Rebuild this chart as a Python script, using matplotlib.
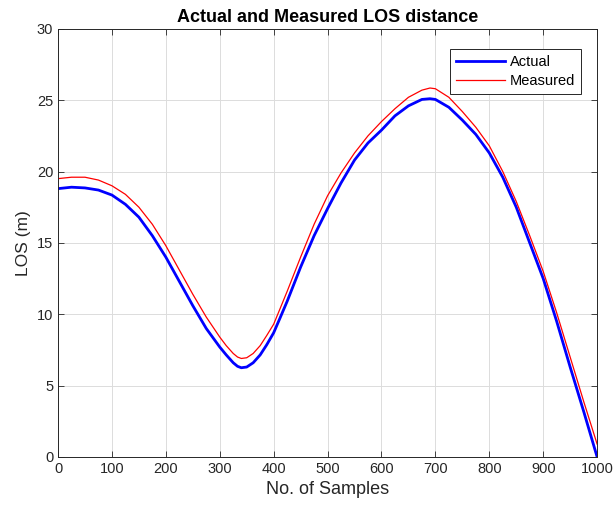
import matplotlib

matplotlib.use("Agg")
import matplotlib.pyplot as plt  # noqa: E402

# samples (LOS distance in metres)
samples = [0, 25, 50, 75, 100, 125, 150, 175, 200, 225, 250, 275, 300, 312,
           325, 333, 340, 350, 362, 375, 387, 400, 412, 425, 450, 475, 500,
           525, 550, 575, 600, 625, 650, 675, 690, 700, 725, 750, 775, 800,
           825, 850, 875, 900, 925, 950, 975, 1000]
actual = [18.8, 18.9, 18.85, 18.7, 18.35, 17.7, 16.8, 15.5, 14.0, 12.3, 10.6,
          9.0, 7.7, 7.15, 6.6, 6.35, 6.25, 6.3, 6.6, 7.15, 7.85, 8.7, 9.75,
          10.9, 13.3, 15.5, 17.4, 19.2, 20.8, 22.0, 22.9, 23.9, 24.6, 25.05,
          25.1, 25.05, 24.5, 23.6, 22.6, 21.3, 19.6, 17.5, 15.0, 12.5, 9.5,
          6.3, 3.2, 0.0]
measured = [19.5, 19.6, 19.6, 19.4, 19.0, 18.4, 17.5, 16.3, 14.8, 13.1, 11.4,
            9.8, 8.4, 7.8, 7.25, 7.0, 6.9, 6.95, 7.25, 7.8, 8.5, 9.3, 10.4,
            11.6, 14.0, 16.3, 18.3, 19.9, 21.3, 22.5, 23.5, 24.4, 25.2, 25.7,
            25.85, 25.8, 25.2, 24.2, 23.1, 21.8, 20.0, 17.9, 15.5, 13.0, 10.1,
            7.0, 3.9, 0.9]
xticks = list(range(0, 1001, 100))
yticks = list(range(0, 31, 5))

AX_GRAY = "#262626"

plt.rcParams["font.family"] = ["Liberation Sans", "DejaVu Sans"]

fig = plt.figure(figsize=(6.14, 5.14), dpi=100)
ax = fig.add_axes([0.0945, 0.111, 0.878, 0.833])

ax.plot(samples, actual, color="#0000ff", linewidth=2.0, label="Actual",
        solid_joinstyle="round")
ax.plot(samples, measured, color="#ff0000", linewidth=0.9, label="Measured",
        solid_joinstyle="round")

ax.set_xlim(0, 1000)
ax.set_ylim(0, 30)
ax.set_xticks(xticks)
ax.set_yticks(yticks)
ax.tick_params(direction="in", top=True, right=True, length=4, width=0.6,
               colors=AX_GRAY, labelsize=10.5)
for sp in ax.spines.values():
    sp.set_color(AX_GRAY)
    sp.set_linewidth(0.7)
ax.grid(True, color="#dcdcdc", linewidth=0.7)
ax.set_axisbelow(True)

ax.set_xlabel("No. of Samples", fontsize=13, color=AX_GRAY)
ax.set_ylabel("LOS (m)", fontsize=12.5, color=AX_GRAY)
ax.set_title("Actual and Measured LOS distance", fontsize=13,
             fontweight="bold", pad=5)

leg = ax.legend(loc="upper right", bbox_to_anchor=(0.970, 0.953),
                borderaxespad=0, fontsize=10.5, fancybox=False,
                framealpha=1, edgecolor=AX_GRAY, handlelength=3.4,
                handletextpad=0.3, borderpad=0.4, labelspacing=0.35)
leg.get_frame().set_linewidth(0.7)

fig.savefig("out.png", dpi=100, facecolor="white")
